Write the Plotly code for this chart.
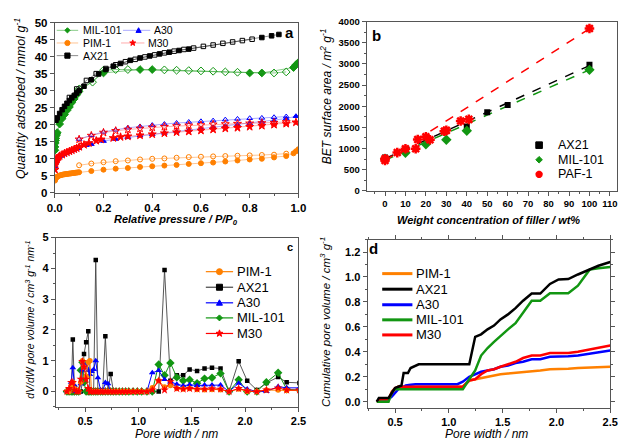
import math
import plotly.graph_objects as go

W, H = 627, 447
FONT = "Liberation Sans, Arial, sans-serif"

# ---------------- Panel a: isotherms ----------------
mil_ads_p = [0.0005,0.001,0.002,0.003,0.004,0.006,0.008,0.01,0.02,0.03,0.04,0.05,0.06,0.07,0.08,0.09,0.10,0.20,0.35,0.40,0.80,0.85,0.98,0.99,1.0]
mil_ads_v = [12.5,13.5,14.6,15.4,16.0,16.8,17.3,17.7,20.2,21.8,23.0,24.2,25.2,26.5,27.6,28.8,29.8,35.2,36.2,36.2,35.2,35.2,36.8,37.6,38.3]
mil_des_p = [0.95,0.90,0.75,0.70,0.65,0.60,0.55,0.50,0.45,0.30,0.25,0.20,0.155,0.10]
mil_des_v = [35.5,35.2,35.4,35.5,35.7,35.8,35.9,36.0,36.1,36.2,36.2,36.0,32.5,30.5]

ax_ads_p = [0.005,0.01,0.02,0.03,0.04,0.05,0.06,0.07,0.08,0.09,0.10,0.12,0.15,0.18,0.21,0.24,0.27,0.31,0.35,0.39,0.43,0.47,0.51,0.55,0.85,0.89,0.92]
ax_ads_v = [21.3,22.0,23.3,24.4,25.4,26.3,27.1,27.9,28.6,29.3,30.0,31.3,33.2,34.9,36.2,37.2,38.0,38.9,39.6,40.2,40.8,41.3,41.8,42.2,45.6,46.1,46.5]
ax_des_p = [0.81,0.77,0.73,0.69,0.65,0.61,0.57,0.53,0.49,0.45,0.41,0.37,0.33,0.29,0.25,0.21,0.17,0.13,0.09,0.06]
ax_des_v = [45.1,44.7,44.3,43.9,43.4,43.0,42.5,42.1,41.6,41.1,40.5,39.9,39.2,38.5,37.6,36.5,35.0,33.0,30.5,28.0]

pim_ads_p = [0.001,0.003,0.005,0.008,0.01,0.015,0.02,0.025,0.03,0.035,0.04,0.045,0.05,0.055,0.06,0.065,0.07,0.075,0.08,0.085,0.09,0.095,0.10,0.15,0.20,0.25,0.30,0.35,0.40,0.45,0.50,0.55,0.60,0.65,0.70,0.75,0.80,0.85,0.90,0.95,0.98,0.99,1.0]
pim_ads_v = [3.6,4.1,4.4,4.6,4.75,4.95,5.1,5.2,5.3,5.4,5.45,5.5,5.55,5.6,5.65,5.7,5.75,5.8,5.85,5.9,5.95,6.0,6.05,6.4,6.8,7.1,7.3,7.6,7.8,8.0,8.2,8.5,8.7,8.9,9.2,9.5,9.8,10.0,10.4,10.8,11.6,12.2,12.8]
pim_des_p = [0.95,0.90,0.85,0.80,0.75,0.70,0.65,0.60,0.55,0.50,0.45,0.40,0.35,0.30,0.25,0.20,0.15,0.10]
pim_des_v = [11.5,11.2,11.1,11.0,10.9,10.8,10.7,10.6,10.5,10.3,10.1,10.0,9.8,9.5,9.3,9.0,8.6,8.1]

a30_ads_p = [0.001,0.003,0.005,0.008,0.01,0.015,0.02,0.03,0.04,0.05,0.06,0.07,0.08,0.09,0.10,0.13,0.15,0.20,0.25,0.30,0.35,0.40,0.45,0.50,0.55,0.60,0.65,0.70,0.75,0.80,0.85,0.90,0.95,0.99]
a30_ads_v = [7.8,8.8,9.3,9.8,10.0,10.4,10.7,11.1,11.5,11.8,12.1,12.4,12.7,13.0,13.2,14.0,14.3,15.2,15.8,16.3,16.8,17.2,17.6,18.0,18.4,18.8,19.2,19.6,20.0,20.4,20.8,21.2,21.8,22.5]
a30_des_p = [0.95,0.90,0.85,0.80,0.75,0.70,0.65,0.60,0.55,0.50,0.45,0.40,0.35,0.30,0.25,0.20,0.15,0.10]
a30_des_v = [22.4,22.2,22.0,21.9,21.7,21.5,21.2,21.0,20.8,20.5,20.2,19.9,19.5,19.1,18.5,17.9,16.9,15.8]

m30_ads_p = [0.001,0.003,0.005,0.008,0.01,0.015,0.02,0.03,0.04,0.05,0.06,0.07,0.08,0.09,0.10,0.12,0.14,0.17,0.19,0.24,0.27,0.30,0.35,0.40,0.45,0.50,0.55,0.60,0.65,0.70,0.75,0.80,0.85,0.90,0.95,0.99]
m30_ads_v = [6.8,8.5,9.2,9.8,10.1,10.5,10.8,11.2,11.6,11.9,12.2,12.5,12.8,13.1,13.5,14.1,14.6,15.3,15.7,16.1,16.4,16.6,16.9,17.2,17.5,17.8,18.0,18.3,18.6,18.9,19.1,19.4,19.7,20.0,20.3,20.7]
m30_des_p = [0.95,0.90,0.85,0.80,0.75,0.70,0.65,0.60,0.55,0.50,0.45,0.40,0.35,0.30,0.25,0.20,0.15,0.10]
m30_des_v = [20.8,20.6,20.5,20.4,20.3,20.2,20.1,19.9,19.8,19.6,19.4,19.2,18.9,18.6,18.2,17.7,16.8,15.7]

# ---------------- Panel b: BET vs loading ----------------
ax21_wt = [0,10,20,30,40,50,60,100]
ax21_bet = [790,980,1200,1420,1520,1860,2030,2980]
mil_wt = [0,10,20,30,40,100]
mil_bet = [760,900,1100,1210,1420,2860]
paf_wt = [0,0,6,10,15,16,20,22,29,30,37,41,100]
paf_bet = [720,760,905,995,995,1215,1280,1210,1410,1430,1650,1690,3835]
fit_wt = [0,100]
fit_ax21 = [760,2960]
fit_mil = [725,2860]
fit_paf = [720,3830]

# ---------------- Panel c: PSD ----------------
psd_w = [0.33,0.35,0.37,0.385,0.40,0.42,0.44,0.46,0.475,0.49,0.51,0.53,0.545,0.56,0.58,0.60,0.62,0.645,0.665,0.69,0.715,0.74,0.765,
         0.79,0.82,0.85,0.88,0.91,0.95,0.99,1.03,1.08,1.13,
         1.19,1.245,1.30,1.36,1.42,1.48,1.55,1.62,1.69,1.77,1.85,1.94,2.02,2.11,2.20,2.31,2.39,2.51]
psd_ax21 = [0,0,0,1.69,0.15,0,0,0,0.3,1.22,1.6,1.96,0,0,0,4.27,0,0,0,1.80,0,0.57,0,
            0,0,0,0,0,0,0,0,0,0,
            0.0,3.95,0.35,0.53,0.53,0.72,0.67,0.75,0.77,0.75,0.0,0.98,0.35,0.05,0.28,0.47,0.30,0.28]
psd_mil = [0,0,0,0,0,0,0,0.69,0.95,0.3,0,0,0,0,0,0,0,0,0,0,0,0,0,
           0,0,0,0,0,0,0,0,0,0,
           0.88,0.53,0.93,0.46,0.35,0.38,0.27,0.42,0.45,0.59,0.0,0.38,0.0,0.0,0.30,0.61,0.07,0.05]
psd_a30 = [0,0,0.3,0.77,0.2,0,0,0.25,0.7,0.9,0.8,0.68,0.55,0.65,0.72,1.0,0.45,0.05,0,0.29,0.25,0,0,
           0,0,0,0,0,0,0,0,0,0.61,
           0.68,0.39,0.31,0.24,0.19,0.22,0.20,0.21,0.21,0.21,0.0,0.27,0.08,0.0,0.0,0.16,0.12,0.12]
psd_pim = [0,0,0.2,0.3,0.1,0.05,0,0.3,1.0,0.8,0.5,0.95,1.0,0,0,0,0,0,0,0,0,0,0,
           0,0,0,0,0,0,0,0,0,0.12,
           0.35,0.15,0.2,0.1,0.08,0.1,0.07,0.06,0.07,0.06,0.0,0.08,0.01,0.0,0.05,0.05,0.03,0.03]
psd_m30 = [0,0.1,0.3,0.3,0.05,0,0,0.4,0.98,0.8,0.4,0.1,0,0,0,0,0,0,0,0,0,0,0,
           0,0,0,0,0,0,0,0,0,0.05,
           0.35,0.05,0.32,0.1,0.08,0.1,0.08,0.08,0.09,0.08,0.0,0.1,0.02,0.0,0.05,0.12,0.05,0.05]

# ---------------- Panel d: cumulative ----------------
cum_pim_w = [0.33,0.44,0.48,0.50,0.53,0.56,1.13,1.19,1.245,1.30,1.36,1.42,1.48,1.55,1.62,1.69,1.77,1.85,1.94,2.02,2.11,2.20,2.31,2.39,2.50]
cum_pim_v = [0,0.02,0.08,0.10,0.12,0.12,0.12,0.17,0.18,0.19,0.20,0.21,0.22,0.225,0.23,0.24,0.245,0.25,0.26,0.265,0.265,0.27,0.275,0.278,0.28]
cum_ax_w = [0.33,0.35,0.44,0.47,0.50,0.53,0.56,0.58,0.62,0.645,0.69,0.72,1.19,1.245,1.30,1.36,1.42,1.48,1.55,1.62,1.69,1.77,1.85,1.94,2.02,2.11,2.20,2.31,2.39,2.50]
cum_ax_v = [0,0.03,0.03,0.07,0.11,0.12,0.13,0.23,0.23,0.27,0.29,0.30,0.30,0.52,0.54,0.58,0.61,0.66,0.70,0.75,0.81,0.867,0.867,0.944,0.98,0.983,1.02,1.06,1.09,1.12]
cum_a30_w = [0.33,0.37,0.44,0.47,0.50,0.53,0.56,0.60,0.645,0.69,1.08,1.13,1.19,1.245,1.30,1.36,1.42,1.48,1.55,1.62,1.69,1.77,1.85,1.94,2.02,2.11,2.20,2.31,2.39,2.50]
cum_a30_v = [0,0.02,0.02,0.04,0.07,0.10,0.11,0.13,0.135,0.14,0.14,0.16,0.20,0.22,0.24,0.25,0.26,0.28,0.29,0.31,0.32,0.34,0.34,0.36,0.365,0.365,0.37,0.385,0.395,0.41]
cum_mil_w = [0.33,0.44,0.46,0.475,0.50,1.13,1.19,1.245,1.30,1.36,1.42,1.48,1.55,1.62,1.69,1.77,1.85,1.94,2.02,2.11,2.20,2.31,2.39,2.50]
cum_mil_v = [0,0,0.05,0.08,0.10,0.10,0.18,0.25,0.37,0.43,0.48,0.53,0.58,0.63,0.71,0.81,0.81,0.87,0.87,0.87,0.93,1.06,1.07,1.08]
cum_m30_w = [0.33,0.37,0.44,0.47,0.50,0.53,1.13,1.19,1.245,1.30,1.36,1.42,1.48,1.55,1.62,1.69,1.77,1.85,1.94,2.02,2.11,2.20,2.31,2.39,2.50]
cum_m30_v = [0,0.02,0.02,0.08,0.11,0.12,0.12,0.17,0.18,0.22,0.25,0.26,0.28,0.30,0.32,0.35,0.37,0.37,0.39,0.39,0.39,0.40,0.42,0.435,0.45]

# ---------------- styles ----------------
GREEN = "#129612"
ORANGE = "#FF8000"
BLUE = "#0000FF"
RED = "#FF0000"
BLACK = "#000000"

def X(px):
    return px / W

def Y(py):
    return 1 - py / H

fig = go.Figure()

# Panel a
def iso(px_, v_, color, lcolor, sym, filled, size=5):
    fig.add_trace(go.Scatter(
        x=px_, y=v_, mode="lines+markers", xaxis="x", yaxis="y", showlegend=False,
        line=dict(color=lcolor, width=1),
        marker=dict(symbol=sym if filled else sym + "-open", size=size, color=color,
                    line=dict(color=color, width=1))))

iso(pim_ads_p, pim_ads_v, ORANGE, "rgba(255,150,60,0.55)", "circle", True)
iso(pim_des_p, pim_des_v, ORANGE, "rgba(255,150,60,0.55)", "circle", False)
iso(a30_ads_p, a30_ads_v, BLUE, "rgba(90,90,255,0.5)", "triangle-up", True)
iso(a30_des_p, a30_des_v, BLUE, "rgba(90,90,255,0.5)", "triangle-up", False)
iso(m30_ads_p, m30_ads_v, RED, "rgba(255,90,90,0.5)", "star", True, 6)
iso(m30_des_p, m30_des_v, RED, "rgba(255,90,90,0.5)", "star", False, 6)
iso(mil_ads_p, mil_ads_v, GREEN, "rgba(40,160,40,0.55)", "diamond", True, 6)
iso(mil_des_p, mil_des_v, GREEN, "rgba(40,160,40,0.55)", "diamond", False, 6)
iso(ax_ads_p, ax_ads_v, BLACK, "rgba(0,0,0,0.45)", "square", True, 4.5)
iso(ax_des_p, ax_des_v, BLACK, "rgba(0,0,0,0.45)", "square", False, 4.5)

# Panel b
for yv, c in [(fit_ax21, BLACK), (fit_mil, GREEN), (fit_paf, RED)]:
    fig.add_trace(go.Scatter(x=fit_wt, y=yv, mode="lines", xaxis="x2", yaxis="y2", showlegend=False,
                             line=dict(color=c, width=1.5, dash="dash")))
fig.add_trace(go.Scatter(x=ax21_wt, y=ax21_bet, mode="markers", xaxis="x2", yaxis="y2", showlegend=False,
                         marker=dict(symbol="square", size=6, color=BLACK)))
fig.add_trace(go.Scatter(x=mil_wt, y=mil_bet, mode="markers", xaxis="x2", yaxis="y2", showlegend=False,
                         marker=dict(symbol="diamond", size=8, color=GREEN)))
fig.add_trace(go.Scatter(x=paf_wt, y=paf_bet, mode="markers", xaxis="x2", yaxis="y2", showlegend=False,
                         marker=dict(symbol="asterisk-open", size=8, color=RED, line=dict(color=RED, width=2.5))))

# Panel c
def psd(v, color, lcolor, sym, size, lw=1):
    fig.add_trace(go.Scatter(x=psd_w, y=v, mode="lines+markers", xaxis="x3", yaxis="y3", showlegend=False,
                             line=dict(color=lcolor, width=lw),
                             marker=dict(symbol=sym, size=size, color=color)))

psd(psd_ax21, BLACK, "#444444", "square", 4.5, 0.9)
psd(psd_mil, GREEN, GREEN, "diamond", 6.5)
psd(psd_a30, BLUE, BLUE, "triangle-up", 6)
psd(psd_pim, ORANGE, ORANGE, "circle", 5.5)
psd(psd_m30, RED, RED, "star", 6.5)

# Panel d
for xw, yv, c in [(cum_pim_w, cum_pim_v, ORANGE), (cum_a30_w, cum_a30_v, BLUE), (cum_m30_w, cum_m30_v, RED),
                  (cum_mil_w, cum_mil_v, GREEN), (cum_ax_w, cum_ax_v, BLACK)]:
    fig.add_trace(go.Scatter(x=xw, y=yv, mode="lines", xaxis="x4", yaxis="y4", showlegend=False,
                             line=dict(color=c, width=2.5)))

# ---------------- axes ----------------
AXC = "#555555"
def axis(dom, rng, dtick, fmt, minor_dtick, fs, anchor, tick0=0, mirror=True):
    d = dict(domain=dom, range=rng, dtick=dtick, tick0=tick0, showgrid=False, zeroline=False,
             showline=True, linecolor=AXC, linewidth=1, mirror=mirror,
             ticks="outside", ticklen=4, tickwidth=1, tickcolor=AXC,
             tickfont=dict(family=FONT, size=fs, color="#000000", weight=700),
             anchor=anchor)
    if fmt:
        d["tickformat"] = fmt
    if minor_dtick:
        d["minor"] = dict(ticks="outside", ticklen=2, dtick=minor_dtick, tickcolor=AXC, showgrid=False)
    return d

fig.update_layout(
    width=W, height=H, margin=dict(l=0, r=0, t=0, b=0),
    paper_bgcolor="white", plot_bgcolor="white",
    xaxis=axis([X(48), X(298)], [0, 1.0], 0.2, ".1f", 0.1, 11.5, "y"),
    yaxis=axis([Y(192), Y(17)], [0, 50], 5, None, None, 11.5, "x"),
    xaxis2=axis([X(368), X(625)], [-9, 113.5], 10, None, 5, 9.5, "y2"),
    yaxis2=axis([Y(190), Y(16)], [0, 4000], 500, None, 250, 9.5, "x2"),
    xaxis3=axis([X(49), X(298)], [0.225, 2.5], 0.5, ".1f", 0.25, 11, "y3"),
    yaxis3=axis([Y(412), Y(238)], [-0.5, 5], 1, None, 0.5, 11, "x3"),
    xaxis4=axis([X(369), X(618)], [0.245, 2.5], 0.5, ".1f", 0.25, 11, "y4", mirror="ticks"),
    yaxis4=axis([Y(413), Y(240)], [-0.05, 1.3], 0.2, ".1f", 0.1, 11, "x4", mirror="ticks"),
)

# ---------------- annotations (titles, labels, legends) ----------------
ann = []
shapes = []

def text(px, py, s, size, bold=False, italic=False, angle=0, xanchor="center", yanchor="middle"):
    ann.append(dict(x=X(px), y=Y(py), xref="paper", yref="paper", text=s, showarrow=False,
                    textangle=angle, xanchor=xanchor, yanchor=yanchor,
                    font=dict(family=FONT, size=size, color="#000000",
                              weight="bold" if bold else "normal",
                              style="italic" if italic else "normal")))

# axis titles
text(13, 95, "Quantity adsorbed / mmol g<sup>-1</sup>", 12.5, italic=True, angle=-90)
text(172, 220, "Relative pressure / P/P<sub>0</sub>", 11, bold=True, italic=True)
text(326, 93, "BET surface area / m<sup>2</sup> g<sup>-1</sup>", 12, italic=True, angle=-90)
text(493, 220, "Weight concentration of filler / wt%", 11, bold=True, italic=True)
text(22, 322, "dV/dW pore volume / cm<sup>3</sup> g<sup>-1</sup> nm<sup>-1</sup>", 10.5, italic=True, angle=-90)
text(173, 440, "Pore width / nm", 12, italic=True)
text(326, 325, "Cumulative pore volume / cm<sup>3</sup> g<sup>-1</sup>", 11.5, italic=True, angle=-90)
text(491, 440, "Pore width / nm", 12, italic=True)

# panel letters
text(289, 27, "a", 15, bold=True)
text(378, 30, "b", 15, bold=True)
text(289, 248, "c", 11, bold=True)
text(375, 249, "d", 15, bold=True)

def star_path(r):
    pts = []
    for k in range(10):
        ang = math.pi / 2 + k * math.pi / 5
        rr = r if k % 2 == 0 else r * 0.42
        pts.append((rr * math.cos(ang), rr * math.sin(ang)))
    return "M" + " L".join(f"{a:.2f},{b:.2f}" for a, b in pts) + " Z"

def glyph(kind, cx, cy, r, color, lw=1):
    base = dict(xref="paper", yref="paper", xsizemode="pixel", ysizemode="pixel",
                xanchor=X(cx), yanchor=Y(cy), line=dict(color=color, width=lw),
                fillcolor=color, layer="above")
    if kind == "circle":
        shapes.append(dict(type="circle", x0=-r, x1=r, y0=-r, y1=r, **base))
    elif kind == "square":
        shapes.append(dict(type="rect", x0=-r, x1=r, y0=-r, y1=r, **base))
    elif kind == "diamond":
        shapes.append(dict(type="path", path=f"M0,{-r} L{r},0 L0,{r} L{-r},0 Z", **base))
    elif kind == "triangle":
        shapes.append(dict(type="path", path=f"M{-r},{-r*0.8} L{r},{-r*0.8} L0,{r} Z", **base))
    elif kind == "star":
        shapes.append(dict(type="path", path=star_path(r * 1.2), **base))
    elif kind == "asterisk":
        p = ""
        for k in range(4):
            ang = k * math.pi / 4
            dx, dy = r * math.cos(ang), r * math.sin(ang)
            p += f"M{-dx:.2f},{-dy:.2f} L{dx:.2f},{dy:.2f} "
        base["line"] = dict(color=color, width=2.5)
        shapes.append(dict(type="path", path=p, **base))

def hline(x0, x1, y, color, width):
    shapes.append(dict(type="line", xref="paper", yref="paper", x0=X(x0), x1=X(x1), y0=Y(y), y1=Y(y),
                       line=dict(color=color, width=width), layer="above"))

# legend a
leg_a = [
    (50, 72, 61, 25, 75, "MIL-101", "diamond", GREEN, "rgba(40,160,40,0.55)"),
    (50, 72, 61, 38, 75, "PIM-1", "circle", ORANGE, "rgba(255,150,60,0.55)"),
    (50, 72, 61, 51, 75, "AX21", "square", BLACK, "rgba(0,0,0,0.45)"),
    (118, 146, 134, 25, 148, "A30", "triangle", BLUE, "rgba(90,90,255,0.5)"),
    (116, 140, 128, 38, 142, "M30", "star", RED, "rgba(255,90,90,0.5)"),
]
for x0, x1, mx, y, tx, lab, k, c, lc in leg_a:
    hline(x0, x1, y, lc, 1)
    glyph(k, mx, y, 2.6, c)
    text(tx, y, lab, 10.5, xanchor="left")

# legend b
for y, lab, k, c in [(143, "AX21", "square", BLACK), (158, "MIL-101", "diamond", GREEN), (173, "PAF-1", "asterisk", RED)]:
    glyph(k, 545, y, 3.3 if k != "asterisk" else 3.6, c)
    text(562, y, lab, 12.5, xanchor="left")

# legend c
for y, lab, k, c, lc in [(273, "PIM-1", "circle", ORANGE, ORANGE), (289, "AX21", "square", BLACK, "#444444"),
                         (305, "A30", "triangle", BLUE, BLUE), (320.5, "MIL-101", "diamond", GREEN, GREEN),
                         (336.5, "M30", "star", RED, RED)]:
    hline(203, 231, y, lc, 1.2)
    glyph(k, 217, y, 3, c)
    text(233, y, lab, 13, xanchor="left")

# legend d
for y, lab, c in [(275, "PIM-1", ORANGE), (291, "AX21", BLACK), (307, "A30", BLUE),
                  (322.5, "MIL-101", GREEN), (338, "M30", RED)]:
    hline(384, 415, y, c, 3)
    text(417, y, lab, 13, xanchor="left")

fig.update_layout(annotations=ann, shapes=shapes)
fig.write_html("out.html",
               config={"displayModeBar": False},
               post_script="document.body.style.margin='0';document.body.style.padding='0';")
